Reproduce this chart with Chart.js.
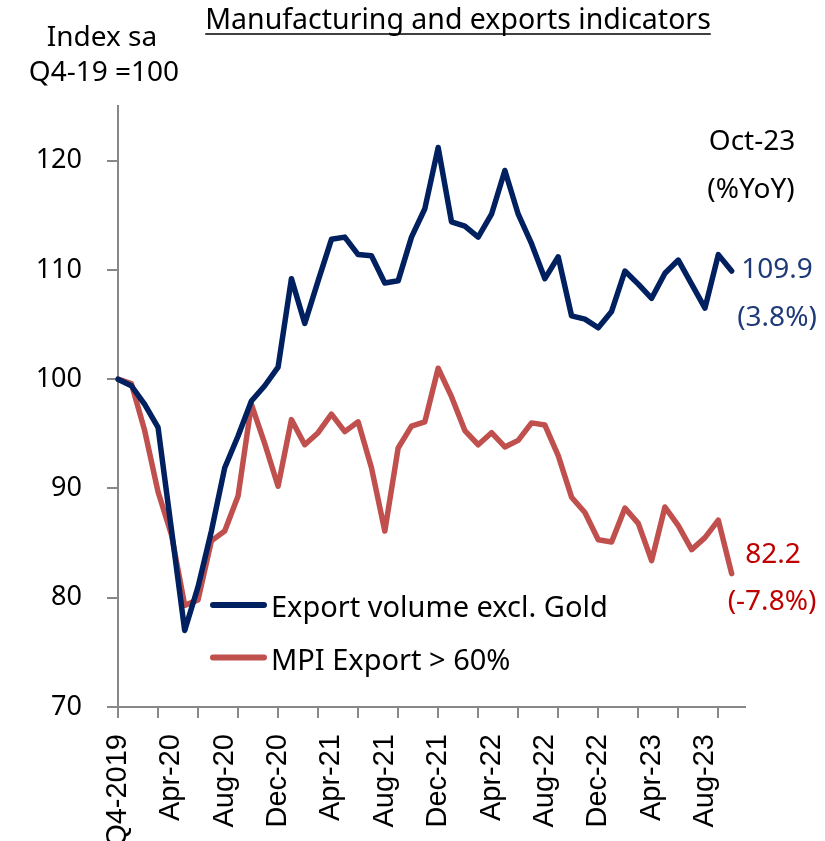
<!DOCTYPE html>
<html>
<head>
<meta charset="utf-8">
<script src="https://cdn.jsdelivr.net/npm/chart.js@4/dist/chart.umd.min.js"></script>
<style>
   body { margin: 0; background: #fff; }
   #wrap { width: 825px; height: 841px; position: relative; }
</style>
</head>
<body>
<div id="wrap"><canvas id="chart-mfg"></canvas></div>
<script>
// categorias (indice 0 = Q4-2019, ultimo vazio para sobrar espaco no eixo)
const categorias = [
   "Q4-2019",
   "Jan-20", "Feb-20", "Mar-20", "Apr-20", "May-20", "Jun-20", "Jul-20", "Aug-20", "Sep-20", "Oct-20", "Nov-20", "Dec-20",
   "Jan-21", "Feb-21", "Mar-21", "Apr-21", "May-21", "Jun-21", "Jul-21", "Aug-21", "Sep-21", "Oct-21", "Nov-21", "Dec-21",
   "Jan-22", "Feb-22", "Mar-22", "Apr-22", "May-22", "Jun-22", "Jul-22", "Aug-22", "Sep-22", "Oct-22", "Nov-22", "Dec-22",
   "Jan-23", "Feb-23", "Mar-23", "Apr-23", "May-23", "Jun-23", "Jul-23", "Aug-23", "Sep-23", "Oct-23",
   ""
];

const exportVolume = [
   100, 99.4, 97.7, 95.6, 86.3, 77.0, 81.0, 86.1, 91.9, 94.8, 98.0, 99.4, 101.1,
   109.2, 105.1, 109.0, 112.8, 113.0, 111.4, 111.3, 108.8, 109.0, 113.0, 115.6, 121.2,
   114.4, 114.0, 113.0, 115.1, 119.1, 115.1, 112.4, 109.2, 111.2, 105.8, 105.5, 104.7,
   106.2, 109.9, 108.7, 107.4, 109.7, 110.9, 108.7, 106.5, 111.4, 109.9
];

const mpiExport = [
   100, 99.6, 95.3, 89.7, 85.8, 79.3, 79.8, 85.2, 86.1, 89.3, 97.7, 94.1, 90.2,
   96.3, 94.0, 95.1, 96.8, 95.2, 96.1, 91.9, 86.1, 93.7, 95.7, 96.1, 101.0,
   98.4, 95.3, 94.0, 95.1, 93.8, 94.4, 96.0, 95.8, 93.0, 89.2, 87.8, 85.3,
   85.1, 88.2, 86.8, 83.4, 88.3, 86.6, 84.4, 85.5, 87.1, 82.2
];

const yoyUltimo = ["(3.8%)", "(-7.8%)"];
const yTicks = [70, 80, 90, 100, 110, 120];

const AZUL = "#002060";
const VERMELHO = "#C0504D";
const CINZA = "#888888";
const FONTE = "'Noto Sans', sans-serif";

// textos fixos: titulo, unidade, legenda e valores finais
const textos = {
   id: "textos",
   afterDraw(chart) {
      const ctx = chart.ctx;
      ctx.save();
      ctx.fillStyle = "#000";
      ctx.textBaseline = "alphabetic";

      // titulo sublinhado
      ctx.font = "28.5px " + FONTE;
      ctx.textAlign = "center";
      const titulo = "Manufacturing and exports indicators";
      ctx.fillText(titulo, 458, 29);
      const w = ctx.measureText(titulo).width;
      ctx.strokeStyle = "#000";
      ctx.lineWidth = 1.5;
      ctx.beginPath();
      ctx.moveTo(458 - w / 2, 34);
      ctx.lineTo(458 + w / 2, 34);
      ctx.stroke();

      ctx.font = "28px " + FONTE;
      ctx.fillText("Index sa", 102, 46);
      ctx.fillText("Q4-19 =100", 104, 81);

      ctx.fillText("Oct-23", 752, 150);
      ctx.fillText("(%YoY)", 751, 198);

      const ds = chart.data.datasets;
      ctx.font = "28px " + FONTE;
      ctx.fillStyle = "#1F3A78";
      ctx.fillText(ds[0].data[ds[0].data.length - 1].toFixed(1), 777, 278);
      ctx.fillText(yoyUltimo[0], 777, 326);
      ctx.fillStyle = "#C00000";
      ctx.fillText(ds[1].data[ds[1].data.length - 1].toFixed(1), 773, 563);
      ctx.fillText(yoyUltimo[1], 772, 610);

      // legenda
      ctx.font = "29px " + FONTE;
      ctx.textAlign = "left";
      ctx.lineCap = "round";
      ds.forEach(function (d, i) {
         const y = 605 + i * 52.5;
         ctx.strokeStyle = d.borderColor;
         ctx.lineWidth = 6;
         ctx.beginPath();
         ctx.moveTo(213, y);
         ctx.lineTo(264, y);
         ctx.stroke();
         ctx.fillStyle = "#000";
         ctx.fillText(d.label, 271, y + 12);
      });
      ctx.restore();
   }
};

const ctxMfg = document.getElementById("chart-mfg");
new Chart(ctxMfg, {
   type: "line",
   data: {
      labels: categorias,
      datasets: [
         {
            label: "Export volume excl. Gold",
            data: exportVolume,
            borderColor: AZUL,
            backgroundColor: AZUL,
            borderWidth: 5.5,
            pointRadius: 0,
            tension: 0,
            borderCapStyle: "round",
            borderJoinStyle: "round",
         },
         {
            label: "MPI Export > 60%",
            data: mpiExport,
            borderColor: VERMELHO,
            backgroundColor: VERMELHO,
            borderWidth: 5.5,
            pointRadius: 0,
            tension: 0,
            borderCapStyle: "round",
            borderJoinStyle: "round",
         },
      ],
   },
   options: {
      responsive: true,
      maintainAspectRatio: false,
      animation: false,
      events: [],
      layout: {
         padding: { top: 106, right: 80, left: 0, bottom: 0 },
      },
      plugins: {
         legend: { display: false },
         tooltip: { enabled: false },
      },
      scales: {
         x: {
            offset: false,
            afterFit: function (scale) { scale.height = 134; },
            border: { color: CINZA, width: 2 },
            grid: {
               drawOnChartArea: false,
               tickLength: 11,
               lineWidth: 2,
               color: function (c) { return c.index % 3 === 0 ? CINZA : "rgba(0,0,0,0)"; },
            },
            ticks: {
               autoSkip: false,
               minRotation: 90,
               maxRotation: 90,
               padding: 16,
               color: "#000",
               font: { family: "'Liberation Sans', Arial, sans-serif", size: 29 },
               callback: function (v, i) { return i % 4 === 0 ? categorias[i] : ""; },
            },
         },
         y: {
            min: 70,
            max: 125,
            afterFit: function (scale) { scale.width = 118; },
            afterBuildTicks: function (scale) {
               scale.ticks = yTicks.map(function (v) { return { value: v }; });
            },
            border: { color: CINZA, width: 2 },
            grid: {
               drawOnChartArea: false,
               tickLength: 11,
               lineWidth: 2,
               color: CINZA,
            },
            ticks: {
               padding: 25,
               color: "#000",
               font: { family: FONTE, size: 27 },
            },
         },
      },
   },
   plugins: [textos],
});
</script>
</body>
</html>
